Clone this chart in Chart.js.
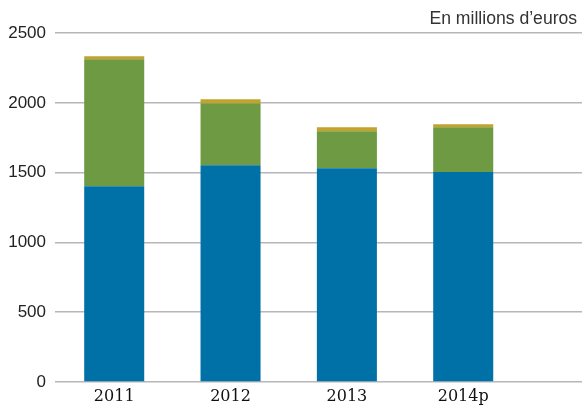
<!DOCTYPE html>
<html>
<head>
<meta charset="utf-8">
<script src="https://cdn.jsdelivr.net/npm/chart.js@4/dist/chart.umd.min.js"></script>
<style>
    body { margin: 0; background: #fff; }
</style>
</head>
<body>
<canvas id="chart" width="582" height="408"></canvas>
<script>
const years = ['2011', '2012', '2013', '2014p'];
const blueValues = [1403, 1553, 1532, 1504];
const greenValues = [910, 444, 265, 322];
const goldValues = [22, 29, 29, 21];
const yTicks = [0, 500, 1000, 1500, 2000, 2500];

const toPoints = values => values.map((v, i) => ({ x: i, y: v }));

new Chart(document.getElementById('chart').getContext('2d'), {
    type: 'bar',
    data: {
        datasets: [
            { data: toPoints(blueValues), backgroundColor: '#0071a7' },
            { data: toPoints(greenValues), backgroundColor: '#6d9a43' },
            { data: toPoints(goldValues), backgroundColor: '#c5a22a' }
        ]
    },
    options: {
        responsive: false,
        animation: false,
        barPercentage: 0.516,
        categoryPercentage: 1,
        layout: { padding: 0 },
        plugins: {
            legend: { display: false },
            tooltip: { enabled: false },
            title: {
                display: true,
                text: 'En millions d\u2019euros ',
                align: 'end',
                color: '#333',
                font: { family: 'Liberation Sans', size: 17.6, weight: 'normal' },
                padding: { top: 9, bottom: 3 }
            }
        },
        scales: {
            x: {
                type: 'linear',
                stacked: true,
                offset: false,
                bounds: 'ticks',
                min: -0.509,
                max: 4.021,
                grid: { display: false, drawTicks: false, tickLength: 0 },
                border: { display: false },
                afterBuildTicks: axis => {
                    axis.ticks = years.map((_, i) => ({ value: i }));
                },
                afterFit: axis => { axis.height = 26; },
                ticks: {
                    callback: value => years[value] ?? '',
                    color: '#111',
                    padding: 5,
                    maxRotation: 0,
                    font: { family: 'DejaVu Serif', size: 16 }
                }
            },
            y: {
                stacked: true,
                min: 0,
                max: 2500,
                afterBuildTicks: axis => {
                    axis.ticks = yTicks.map(v => ({ value: v }));
                },
                afterFit: axis => { axis.width = 55; },
                border: { display: false },
                grid: { color: '#b6b6bb', lineWidth: 1.5, drawTicks: false },
                ticks: {
                    callback: value => String(value),
                    color: '#222',
                    padding: 9,
                    font: { family: 'Liberation Sans', size: 17 }
                }
            }
        }
    }
});
</script>
</body>
</html>
